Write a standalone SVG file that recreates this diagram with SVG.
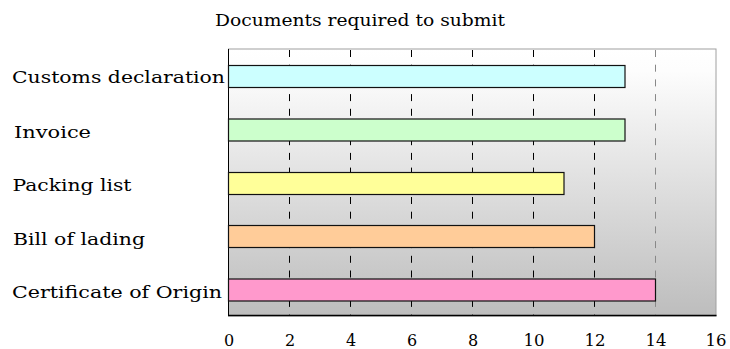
<svg xmlns="http://www.w3.org/2000/svg" width="730" height="349" viewBox="0 0 730 349">
<defs>
<linearGradient id="bg" x1="0" y1="0" x2="0" y2="1">
<stop offset="0" stop-color="#ffffff"/>
<stop offset="0.08" stop-color="#fdfdfd"/>
<stop offset="1" stop-color="#bdbdbd"/>
</linearGradient>
<style>
text{font-family:'DejaVu Serif','Liberation Serif',serif;fill:#000}
.lbl{font-size:17px}
.tick{font-size:16px;text-anchor:middle}
.title{font-size:16px}
.grid{stroke:#000;stroke-width:1;stroke-dasharray:7 7.7}
.bar{stroke:#111;stroke-width:1.2}
</style>
</defs>
<rect width="730" height="349" fill="#fff"/>
<g id="title">
<text class="title" x="215" y="26" textLength="290" lengthAdjust="spacingAndGlyphs">Documents required to submit</text>
</g>
<g id="plot">
<rect x="228.5" y="49" width="487.5" height="267" fill="url(#bg)" stroke="#a0a0a0" stroke-width="1"/>
</g>
<g id="gridlines">
<line class="grid" x1="289.5" y1="50" x2="289.5" y2="316"/>
<line class="grid" x1="350.5" y1="50" x2="350.5" y2="316"/>
<line class="grid" x1="411.5" y1="50" x2="411.5" y2="316"/>
<line class="grid" x1="472.5" y1="50" x2="472.5" y2="316"/>
<line class="grid" x1="533.5" y1="50" x2="533.5" y2="316"/>
<line class="grid" x1="594.5" y1="50" x2="594.5" y2="316"/>
<line class="grid" x1="655.5" y1="50" x2="655.5" y2="316" style="stroke:#888"/>
</g>
<g id="axes">
<line x1="228.5" y1="49" x2="228.5" y2="316" stroke="#000" stroke-width="1"/>
<line x1="228" y1="315.5" x2="716.5" y2="315.5" stroke="#000" stroke-width="1.5"/>
</g>
<g id="bar-customs">
<rect class="bar" x="228.5" y="65.5" width="396.5" height="22" fill="#ccffff"/>
<text class="lbl" x="12" y="82.5" textLength="213" lengthAdjust="spacingAndGlyphs">Customs declaration</text>
</g>
<g id="bar-invoice">
<rect class="bar" x="228.5" y="119" width="396.5" height="22" fill="#ccffcc"/>
<text class="lbl" x="14" y="137.5" textLength="77" lengthAdjust="spacingAndGlyphs">Invoice</text>
</g>
<g id="bar-packing">
<rect class="bar" x="228.5" y="172.5" width="335.5" height="22" fill="#ffff99"/>
<text class="lbl" x="12.5" y="191" textLength="119" lengthAdjust="spacingAndGlyphs">Packing list</text>
</g>
<g id="bar-bill">
<rect class="bar" x="228.5" y="225.5" width="366" height="22" fill="#ffcc99"/>
<text class="lbl" x="13" y="244.5" textLength="132" lengthAdjust="spacingAndGlyphs">Bill of lading</text>
</g>
<g id="bar-certificate">
<rect class="bar" x="228.5" y="279" width="427" height="22" fill="#ff99cc"/>
<text class="lbl" x="12" y="298" textLength="210" lengthAdjust="spacingAndGlyphs">Certificate of Origin</text>
</g>
<g id="x-axis-labels">
<text class="tick" x="229" y="346">0</text>
<text class="tick" x="290" y="346">2</text>
<text class="tick" x="351" y="346">4</text>
<text class="tick" x="412" y="346">6</text>
<text class="tick" x="473" y="346">8</text>
<text class="tick" x="534" y="346" textLength="21" lengthAdjust="spacingAndGlyphs">10</text>
<text class="tick" x="595" y="346" textLength="21" lengthAdjust="spacingAndGlyphs">12</text>
<text class="tick" x="656" y="346" textLength="21" lengthAdjust="spacingAndGlyphs">14</text>
<text class="tick" x="716" y="346" textLength="21" lengthAdjust="spacingAndGlyphs">16</text>
</g>
</svg>
